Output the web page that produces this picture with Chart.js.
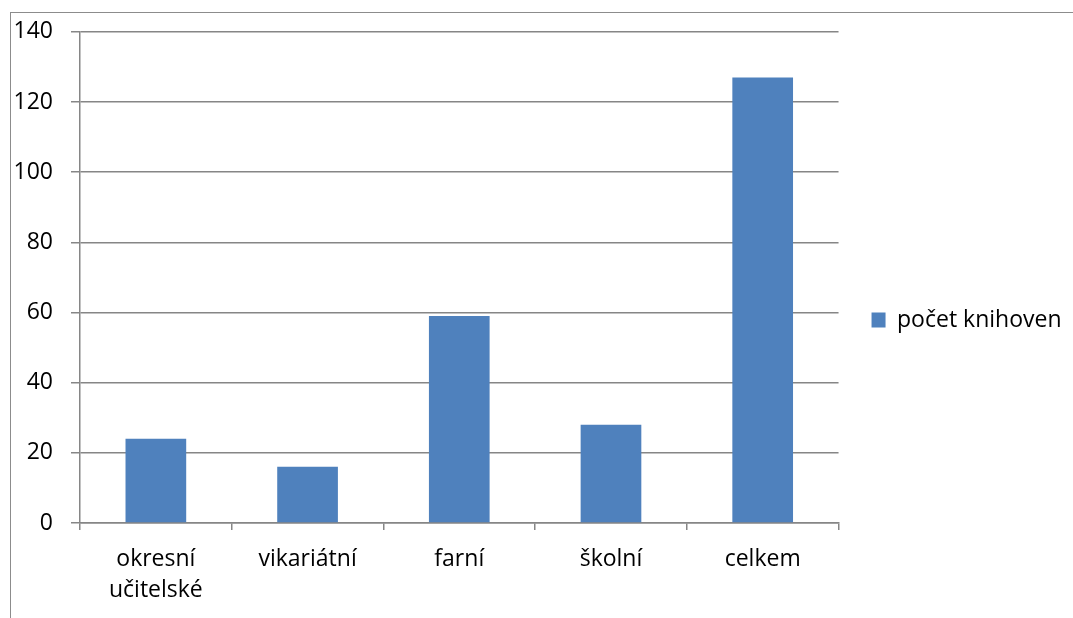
<!DOCTYPE html>
<html>
<head>
<meta charset="utf-8">
<script src="https://cdn.jsdelivr.net/npm/chart.js@4/dist/chart.umd.min.js"></script>
<style>
  html, body { margin: 0; padding: 0; background: #fff; }
  #wrap { position: relative; width: 1073px; height: 618px; overflow: hidden; }
  #frame { position: absolute; left: 10px; top: 12px; width: 1100px; height: 700px;
           border-top: 1.5px solid #8c8c8c; border-left: 1.5px solid #8c8c8c; box-sizing: border-box; }
  canvas { position: absolute; left: 0; top: 0; }
</style>
</head>
<body>
<div id="wrap">
  <div id="frame"></div>
  <canvas id="c" width="1073" height="618"></canvas>
</div>
<script>
const categories = [["okresní", "učitelské"], "vikariátní", "farní", "školní", "celkem"];
const seriesName = "počet knihoven";
const values = [24, 16, 59, 28, 127];
const yTicks = [0, 20, 40, 60, 80, 100, 120, 140];

const FONT = "'Open Sans', 'Noto Sans', sans-serif";
const GRID = "#868686";

new Chart(document.getElementById("c"), {
  type: "bar",
  data: {
    labels: categories,
    datasets: [{
      label: seriesName,
      data: values,
      backgroundColor: "#4F81BD",
      borderWidth: 0,
      barPercentage: 0.4,
      categoryPercentage: 1.0
    }]
  },
  options: {
    responsive: false,
    animation: false,
    devicePixelRatio: 1,
    layout: { padding: { left: 0, top: 29, right: 1.5, bottom: 7 } },
    plugins: {
      tooltip: { enabled: false },
      legend: {
        position: "right",
        align: "center",
        labels: {
          color: "#000",
          font: { family: FONT, size: 23 },
          boxWidth: 14,
          boxHeight: 15,
          padding: 33
        }
      }
    },
    scales: {
      x: {
        grid: { drawOnChartArea: false, drawTicks: true, tickLength: 7, color: GRID, lineWidth: 1.5, offset: true },
        border: { color: GRID, width: 1.5 },
        ticks: { color: "#000", font: { family: FONT, size: 23, lineHeight: 1.35 }, padding: 14, maxRotation: 0, autoSkip: false },
        afterFit: (s) => { s.height = 88; }
      },
      y: {
        min: 0,
        max: 140,
        afterBuildTicks: (s) => { s.ticks = yTicks.map(v => ({ value: v })); },
        grid: { color: GRID, lineWidth: 1.5, tickLength: 9, drawTicks: true },
        border: { color: GRID, width: 1.5 },
        ticks: { color: "#000", font: { family: FONT, size: 23 }, padding: 18 },
        afterFit: (s) => { s.width = 80; }
      }
    }
  }
});
</script>
</body>
</html>
